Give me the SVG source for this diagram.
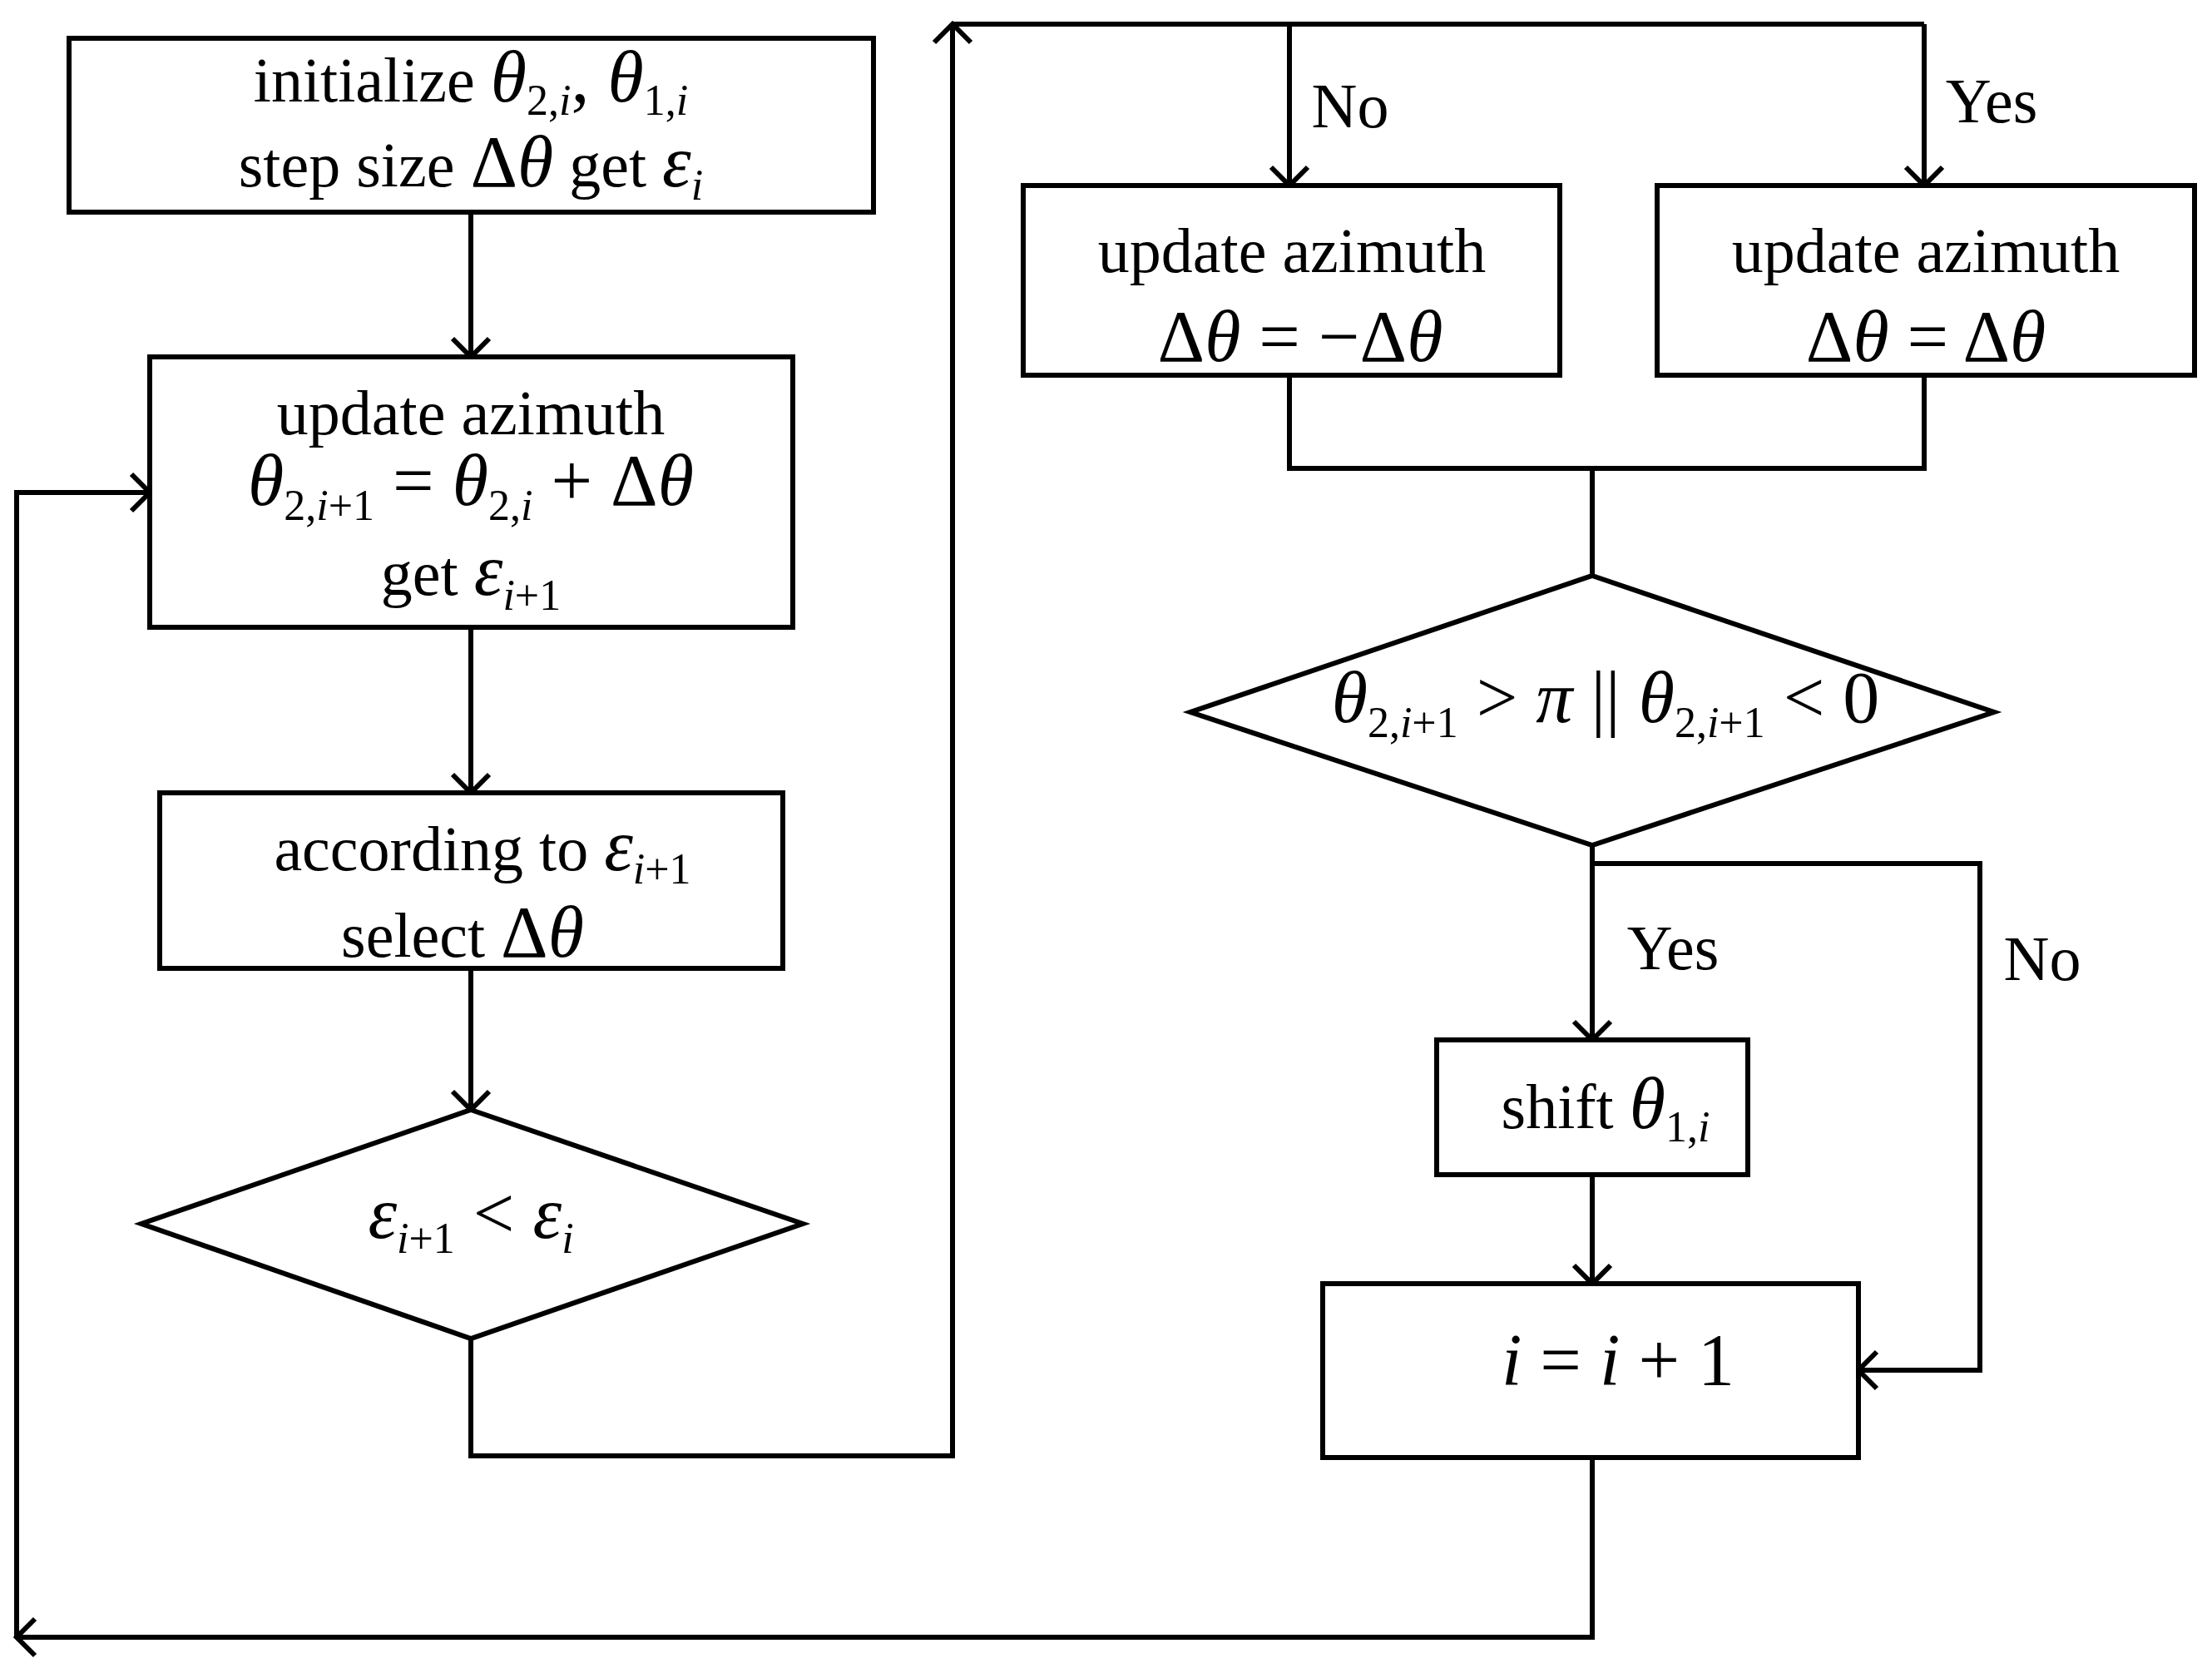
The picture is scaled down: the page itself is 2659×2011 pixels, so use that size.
<svg xmlns="http://www.w3.org/2000/svg" width="2659" height="2011" viewBox="0 0 2659 2011">
<style>
.b{fill:#fff;stroke:#000;stroke-width:6}
.c{fill:none;stroke:#000;stroke-width:6;stroke-linejoin:miter}
text{font-family:"Liberation Serif","Times New Roman",serif;fill:#000;text-anchor:middle}
.t{font-size:76px}
.m{font-size:88px}
.i{font-style:italic}
.s{font-size:52px}
</style>
<defs>
<marker id="a" refX="0" refY="0" markerWidth="40" markerHeight="40" markerUnits="userSpaceOnUse" orient="auto" overflow="visible">
<path d="M-22,-22 L0,0 L-22,22" fill="none" stroke="#000" stroke-width="6"/>
</marker>
</defs>
<rect width="2659" height="2011" fill="#fff"/>
<g id="connectors">
<path class="c" d="M566,255 V429" marker-end="url(#a)"/>
<path class="c" d="M566,754 V953" marker-end="url(#a)"/>
<path class="c" d="M566,1164 V1334" marker-end="url(#a)"/>
<path class="c" d="M566,1609 V1750 H1145 V29" marker-end="url(#a)"/>
<path class="c" d="M1145,29 H2313"/>
<path class="c" d="M1550,29 V223" marker-end="url(#a)"/>
<path class="c" d="M2313,29 V223" marker-end="url(#a)"/>
<path class="c" d="M1550,451 V563 H2313 V451"/>
<path class="c" d="M1914,563 V692"/>
<path class="c" d="M1914,1016 V1250" marker-end="url(#a)"/>
<path class="c" d="M1914,1038 H2380 V1647 H2234" marker-end="url(#a)"/>
<path class="c" d="M1914,1412 V1543" marker-end="url(#a)"/>
<path class="c" d="M1914,1752 V1968 H20" marker-end="url(#a)"/>
<path class="c" d="M20,1968 V592 H180" marker-end="url(#a)"/>
<text class="t" x="1623" y="153">No</text>
<text class="t" x="2394" y="147">Yes</text>
<text class="t" x="2011" y="1165">Yes</text>
<text class="t" x="2455" y="1178">No</text>
</g>
<g id="init">
<rect class="b" x="83" y="46" width="967" height="209"/>
<text x="566" y="122"><tspan class="t">initialize </tspan><tspan class="m i">θ</tspan><tspan class="s" dy="16">2,<tspan class="i">i</tspan></tspan><tspan class="m" dy="-16">, </tspan><tspan class="m i">θ</tspan><tspan class="s" dy="16">1,<tspan class="i">i</tspan></tspan></text>
<text x="566" y="224"><tspan class="t">step size </tspan><tspan class="m">Δ</tspan><tspan class="m i">θ</tspan><tspan class="t">  get </tspan><tspan class="m i">ε</tspan><tspan class="s i" dy="16">i</tspan></text>
</g>
<g id="update">
<rect class="b" x="180" y="429" width="773" height="325"/>
<text class="t" x="566" y="522">update azimuth</text>
<text x="566" y="607"><tspan class="m i">θ</tspan><tspan class="s" dy="18">2,<tspan class="i">i</tspan>+1</tspan><tspan class="m" dy="-18"> = </tspan><tspan class="m i">θ</tspan><tspan class="s" dy="18">2,<tspan class="i">i</tspan></tspan><tspan class="m" dy="-18"> + Δ</tspan><tspan class="m i">θ</tspan></text>
<text x="566" y="715"><tspan class="t">get </tspan><tspan class="m i">ε</tspan><tspan class="s" dy="18"><tspan class="i">i</tspan>+1</tspan></text>
</g>
<g id="select">
<rect class="b" x="192" y="953" width="749" height="211"/>
<text x="580" y="1046"><tspan class="t">according to </tspan><tspan class="m i">ε</tspan><tspan class="s" dy="16"><tspan class="i">i</tspan>+1</tspan></text>
<text x="556" y="1150"><tspan class="t">select </tspan><tspan class="m">Δ</tspan><tspan class="m i">θ</tspan></text>
</g>
<g id="cmp">
<polygon class="b" points="566,1334 965,1471 566,1609 170,1471"/>
<text x="566" y="1488"><tspan class="m i">ε</tspan><tspan class="s" dy="18"><tspan class="i">i</tspan>+1</tspan><tspan class="m" dy="-18"> &lt; </tspan><tspan class="m i">ε</tspan><tspan class="s i" dy="18">i</tspan></text>
</g>
<g id="neg">
<rect class="b" x="1230" y="223" width="645" height="228"/>
<text class="t" x="1553" y="327">update azimuth</text>
<text class="m" x="1563" y="434">Δ<tspan class="i">θ</tspan> = −Δ<tspan class="i">θ</tspan></text>
</g>
<g id="pos">
<rect class="b" x="1992" y="223" width="646" height="228"/>
<text class="t" x="2315" y="327">update azimuth</text>
<text class="m" x="2315" y="434">Δ<tspan class="i">θ</tspan> = Δ<tspan class="i">θ</tspan></text>
</g>
<g id="range">
<polygon class="b" points="1914,692 2397,856 1914,1016 1431,856"/>
<text x="1930" y="868"><tspan class="m i">θ</tspan><tspan class="s" dy="18">2,<tspan class="i">i</tspan>+1</tspan><tspan class="m" dy="-18"> &gt; </tspan><tspan class="m i">π</tspan><tspan class="m"> || </tspan><tspan class="m i">θ</tspan><tspan class="s" dy="18">2,<tspan class="i">i</tspan>+1</tspan><tspan class="m" dy="-18"> &lt; 0</tspan></text>
</g>
<g id="shift">
<rect class="b" x="1727" y="1250" width="374" height="162"/>
<text x="1930" y="1356"><tspan class="t">shift </tspan><tspan class="m i">θ</tspan><tspan class="s" dy="16">1,<tspan class="i">i</tspan></tspan></text>
</g>
<g id="inc">
<rect class="b" x="1590" y="1543" width="644" height="209"/>
<text class="m" x="1945" y="1664"><tspan class="i">i</tspan> = <tspan class="i">i</tspan> + 1</text>
</g>
</svg>
